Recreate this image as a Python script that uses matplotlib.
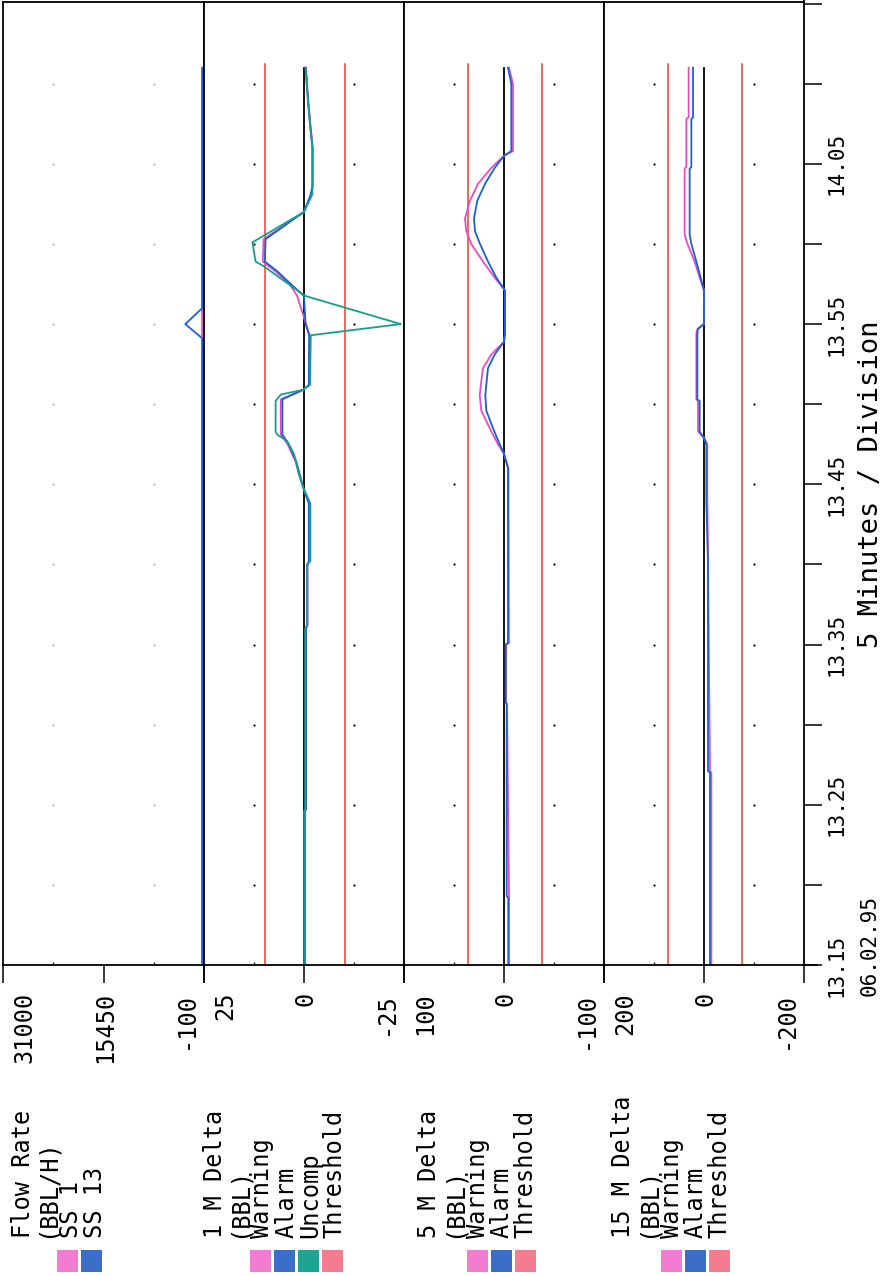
import matplotlib
matplotlib.use("Agg")
import matplotlib.pyplot as plt
from matplotlib.patches import Rectangle
from matplotlib.lines import Line2D
from matplotlib.transforms import offset_copy

## Data (time in minutes after 13.15, values in panel units)
time_ticks = [0, 10, 20, 30, 40, 50]
time_labels = ["13.15", "13.25", "13.35", "13.45", "13.55", "14.05"]
date_label = "06.02.95"

# Flow Rate (BBL/H)
t_flow = [0, 39.1, 40.0, 41.0, 56.0]
flow_ss1 = [250, 250, 250, 250, 250]
flow_ss13 = [150, 150, 2800, 150, 150]

# 1 M Delta (BBL)
t_alarm1 = [0, 9.6, 9.7, 21.0, 21.2, 25.0, 25.2, 28.8, 29.8, 31.4, 32.5, 33.1, 35.3, 35.9, 36.2,
            39.3, 40.0, 41.75, 42.5, 43.3, 43.9, 45.3, 47.0, 48.1, 48.6, 51.0, 52.5, 53.9, 56.0]
alarm1 = [0, 0, -0.5, -0.5, -0.8, -0.8, -1.2, -1.2, 0.2, 1.9, 3.8, 5.4, 5.4, 0.2, -1.2,
          -1.3, -0.4, 0, 3.3, 6.7, 9.8, 9.6, 0, -1.7, -2.1, -2.1, -1.5, -1.0, -0.4]
warning1 = [0, 0, -0.5, -0.5, -0.9, -0.9, -1.3, -1.3, 0.2, 2.1, 4.1, 5.8, 5.8, 0.2, -1.3,
            -1.4, -0.5, 1.7, 3.6, 7.2, 10.3, 10.1, 0, -1.8, -2.2, -2.2, -1.6, -1.1, -0.5]
t_uncomp1 = [0, 9.6, 21.0, 21.2, 25.0, 25.2, 28.8, 29.8, 30.6, 31.9, 32.7, 33.1, 33.3, 35.2, 35.6,
             35.9, 36.2, 39.3, 40.0, 41.75, 42.1, 43.6, 43.9, 45.1, 47.0, 48.1, 48.6, 51.0, 52.5,
             53.9, 56.0]
uncomp1 = [-0.3, -0.3, -0.3, -0.8, -0.8, -1.6, -1.6, 0.2, 1.25, 2.5, 4.2, 6.7, 7.1, 7.1, 5.8,
           0.2, -1.5, -1.7, -24.2, -0.4, 1.7, 10.0, 12.1, 12.9, 0, -2.1, -2.1, -2.1, -1.5,
           -1.0, -0.4]
thresh1 = [9.75, -10.25]

# 5 M Delta (BBL)
t_5m = [0, 4.2, 4.3, 16.3, 16.4, 20.0, 20.1, 29.0, 31.0, 31.9, 32.5, 33.5, 34.6, 35.6, 37.25,
        38.1, 38.9, 39.4, 42.1, 42.9, 43.9, 45.0, 45.8, 46.6, 47.7, 48.75, 49.75, 50.5, 50.8,
        55.0, 56.0]
alarm5 = [-4.3, -4.3, -2.7, -2.7, -1.7, -1.7, -4, -4, -4, 0, 4.3, 11, 17.7, 18.7, 16,
          9.3, 0, -1, -1, 7.7, 16, 24, 29, 30, 26.7, 19, 9.3, 0, -7.3, -7.3, -4]
warning5 = [-5, -5, -5, -3, -2, -2, -5, -4.5, -4.5, 0, 6, 14.3, 22.7, 24.3, 21,
            12.7, 0, -1, -1, 9.3, 21, 32.7, 37.7, 39, 34, 26, 12.7, 0, -9, -9, -5]
thresh5 = [36, -38]

# 15 M Delta (BBL)
t_15m = [0, 12.0, 12.1, 25.2, 29.0, 32.5, 32.9, 33.1, 33.3, 35.2, 35.3, 39.4, 39.7, 40.0,
         42.1, 42.9, 43.9, 45.0, 45.6, 49.7, 49.8, 52.8, 52.9, 56.0]
alarm15 = [-12, -12, -8, -8, -4.7, -4.7, 0, 5, 8.7, 8.7, 13.3, 13.3, 12, 0,
           0, 6.7, 15.3, 25.3, 28.7, 28.7, 25.3, 25.3, 22, 22]
warning15 = [-14.7, -14.7, -12, -8, -6.7, -6.7, 0, 6, 12, 12, 15.3, 15.3, 13, 0,
             0, 8.7, 18.7, 33, 38.7, 38.7, 35.3, 35.3, 30.7, 30.7]
thresh15 = [72, -76]

panel_ranges = [(31000, -100), (25, -25), (100, -100), (200, -200)]
panel_ticklabels = [["31000", "15450", "-100"], ["25", "0", "-25"],
                    ["100", "0", "-100"], ["200", "0", "-200"]]
panel_titles = [["Flow Rate", "(BBL/H)", "SS 1", "SS 13"],
                ["1 M Delta", "(BBL)", "Warning", "Alarm", "Uncomp", "Threshold"],
                ["5 M Delta", "(BBL)", "Warning", "Alarm", "Threshold"],
                ["15 M Delta", "(BBL)", "Warning", "Alarm", "Threshold"]]

## Styles
FONT = "DejaVu Sans Mono"
LABEL_SIZE = 17
PINK = "#e24fc4"
BLUE = "#1d5fcf"
TEAL = "#14a08c"
RED = "#f23c2a"
SW_PINK = "#f27ccf"
SW_BLUE = "#3b6fc7"
SW_TEAL = "#1ea58f"
SW_SALMON = "#f57b8f"
panel_swatches = [[SW_PINK, SW_BLUE], [SW_PINK, SW_BLUE, SW_TEAL, SW_SALMON],
                  [SW_PINK, SW_BLUE, SW_SALMON], [SW_PINK, SW_BLUE, SW_SALMON]]

W, H = 883, 1276
edges = [3, 204, 404, 604, 804]   # panel borders (px)
TOP, BOT = 2, 965
T_END = 60.1
T_DATA = 56.0

fig = plt.figure(figsize=(W / 100, H / 100), dpi=100)
fig.patch.set_facecolor("white")

axes = []
for i, (vmax, vmin) in enumerate(panel_ranges):
    l, r = edges[i], edges[i + 1]
    ax = fig.add_axes([l / W, 1 - BOT / H, (r - l) / W, (BOT - TOP) / H])
    ax.set_xlim(vmax, vmin)
    ax.set_ylim(0, T_END)
    for s in ax.spines.values():
        s.set_linewidth(1.3)
    mid = (vmax + vmin) / 2
    q1, q3 = (vmax + mid) / 2, (mid + vmin) / 2
    ax.set_xticks([vmax, mid, vmin])
    ax.set_xticks([q1, q3], minor=True)
    ax.tick_params(axis="x", which="major", direction="out", length=13, width=1.1,
                   labelbottom=False)
    ax.tick_params(axis="x", which="minor", direction="in", length=2, width=1)
    ax.set_yticks([])
    # grid dots
    dot_t = list(range(5, 56, 5))
    dcol = "#bbbbbb" if i == 0 else "black"
    ax.plot([q1] * len(dot_t), dot_t, ls="none", marker="o", ms=1.6, color=dcol, mec="none")
    ax.plot([q3] * len(dot_t), dot_t, ls="none", marker="o", ms=1.6, color=dcol, mec="none")
    # value labels
    y_ax = -(992 - BOT) / (BOT - TOP)
    for v, lab, dx in zip([vmax, mid, vmin], panel_ticklabels[i], [20, 0, -20]):
        tr = offset_copy(ax.get_xaxis_transform(), fig=fig, x=dx + 8.5, y=0, units="dots")
        ax.text(v, y_ax, lab, transform=tr, rotation=90, rotation_mode="anchor",
                ha="right", va="baseline", fontfamily=FONT, fontsize=LABEL_SIZE,
                clip_on=False)
    axes.append(ax)

ax_f, ax_1, ax_5, ax_15 = axes

# Flow rate
ax_f.plot(flow_ss1, t_flow, color=PINK, lw=1.3)
ax_f.plot(flow_ss13, t_flow, color=BLUE, lw=1.3)

# 1 M delta
for th in thresh1:
    ax_1.plot([th, th], [0, T_DATA + 0.2], color=RED, lw=1.1)
ax_1.plot([0, 0], [0, T_DATA], color="black", lw=1.3)
ax_1.plot(warning1, t_alarm1, color=PINK, lw=1.3)
ax_1.plot(alarm1, t_alarm1, color=BLUE, lw=1.3)
ax_1.plot(uncomp1, t_uncomp1, color=TEAL, lw=1.3)

# 5 M delta
for th in thresh5:
    ax_5.plot([th, th], [0, T_DATA + 0.2], color=RED, lw=1.1)
ax_5.plot([0, 0], [0, T_DATA], color="black", lw=1.3)
ax_5.plot(warning5, t_5m, color=PINK, lw=1.3)
ax_5.plot(alarm5, t_5m, color=BLUE, lw=1.3)

# 15 M delta
for th in thresh15:
    ax_15.plot([th, th], [0, T_DATA + 0.2], color=RED, lw=1.1)
ax_15.plot([0, 0], [0, T_DATA], color="black", lw=1.3)
ax_15.plot(warning15, t_15m, color=PINK, lw=1.3)
ax_15.plot(alarm15, t_15m, color=BLUE, lw=1.3)

# time axis on the right of the last panel
ax_15.yaxis.tick_right()
ax_15.set_yticks(list(range(0, 61, 5)))
ax_15.tick_params(axis="y", direction="out", length=13, width=1.1, labelright=False)
for t, lab in zip(time_ticks, time_labels):
    tr = offset_copy(ax_15.get_yaxis_transform(), fig=fig, x=32, y=0, units="dots")
    ax_15.text(1, t, lab, transform=tr, rotation=90, rotation_mode="anchor",
               ha="center", va="center", fontfamily=FONT, fontsize=15, clip_on=False)
tr = offset_copy(ax_15.get_yaxis_transform(), fig=fig, x=66, y=0, units="dots")
ax_15.text(1, 1.2, date_label, transform=tr, rotation=90, rotation_mode="anchor",
           ha="center", va="center", fontfamily=FONT, fontsize=15, clip_on=False)
tr = offset_copy(ax_15.get_yaxis_transform(), fig=fig, x=67, y=0, units="dots")
ax_15.text(1, 30, "5 Minutes / Division", transform=tr, rotation=90, rotation_mode="anchor",
           ha="center", va="center", fontfamily=FONT, fontsize=19.5, clip_on=False)

# axis line extensions
fig.add_artist(Line2D([804 / W, 817 / W], [1 - BOT / H] * 2, color="black", lw=1.2))
fig.add_artist(Line2D([804 / W] * 2, [1 - TOP / H, 1.0], color="black", lw=1.3))

# panel titles and colour keys (text baseline sits right of the glyphs when rotated)
title_x0 = [21, 213, 428, 622]
swatch_x0 = [57, 250, 467, 661]
for i in range(4):
    for k, line in enumerate(panel_titles[i]):
        fig.text((title_x0[i] + 24 * k + 8.5) / W, 1 - 1238 / H, line, rotation=90,
                 rotation_mode="anchor", ha="left", va="baseline",
                 fontfamily=FONT, fontsize=LABEL_SIZE)
    for k, c in enumerate(panel_swatches[i]):
        fig.add_artist(Rectangle(((swatch_x0[i] + 24 * k) / W, 1 - 1272 / H), 21 / W, 22 / H,
                                 transform=fig.transFigure, facecolor=c, edgecolor="none"))

fig.savefig("out.png", dpi=100)
